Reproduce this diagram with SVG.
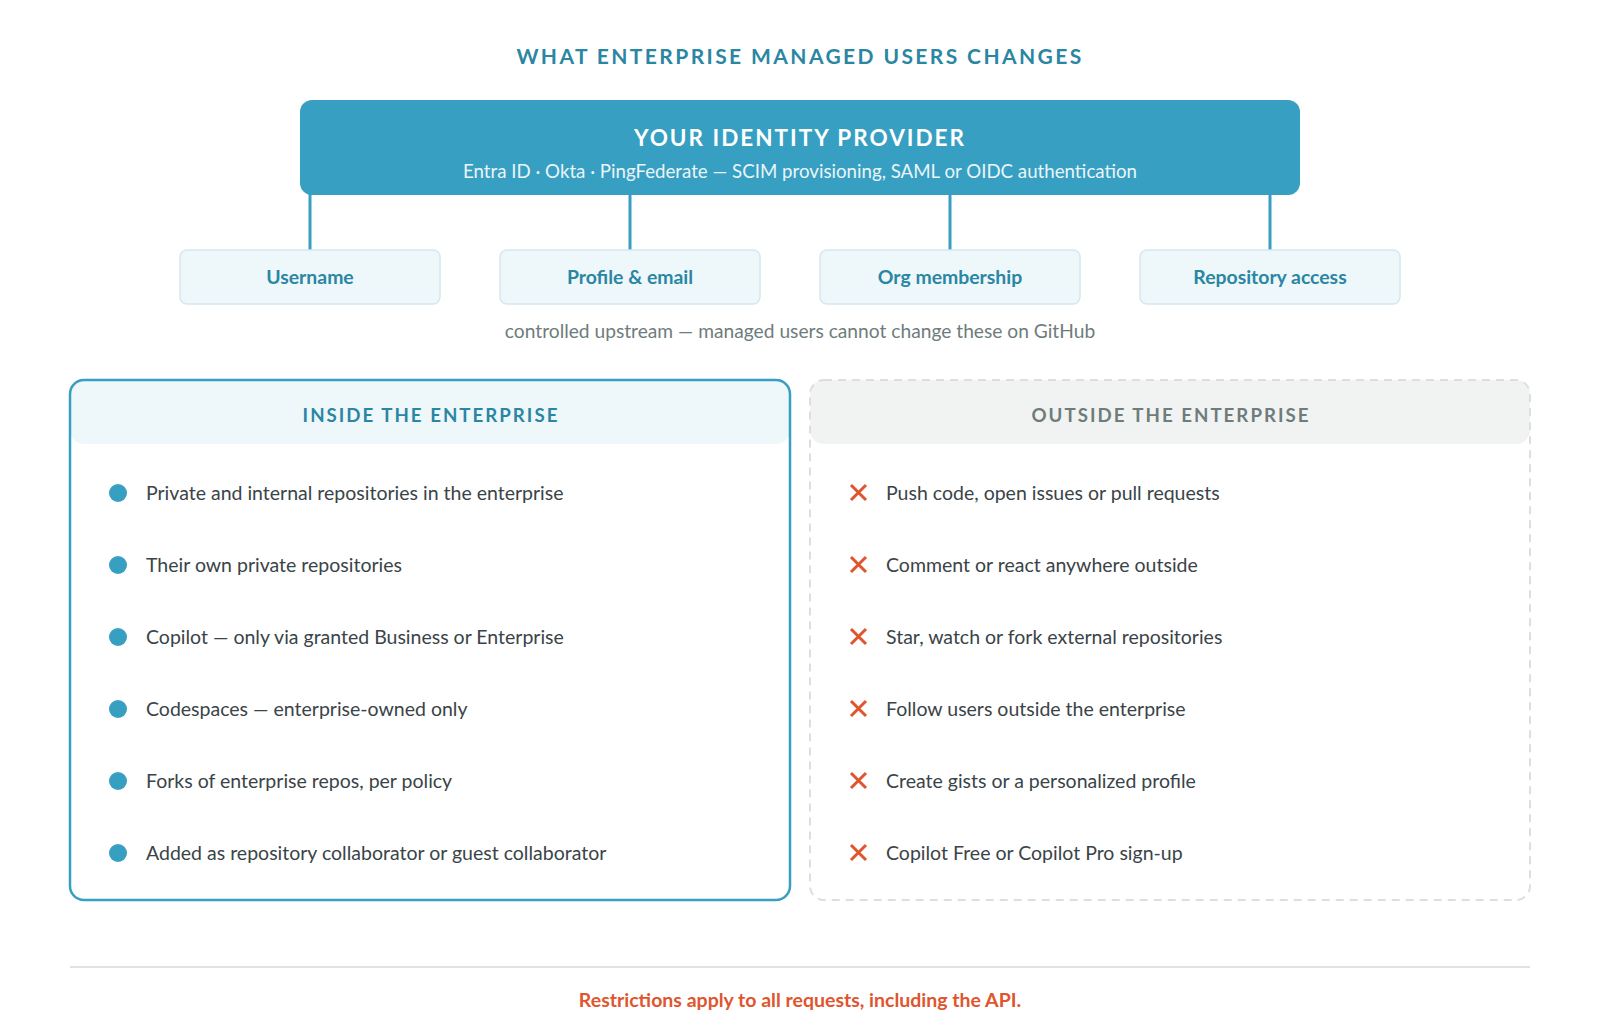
<svg xmlns="http://www.w3.org/2000/svg" width="1600" height="1020" viewBox="0 0 1600 1020">
<style>
text{font-family:Lato,"Liberation Sans",sans-serif}
.title{font-size:21px;font-weight:700;fill:#2A86A3;letter-spacing:2.4px}
.idp-t{font-size:22.5px;font-weight:700;fill:#fff;letter-spacing:2px}
.idp-s{font-size:18.7px;fill:#EAF5FA}
.attr{fill:#EEF7FA;stroke:#D3E9F1;stroke-width:1.5}
.attr-t{font-size:19.4px;font-weight:700;fill:#2A86A3}
.note{font-size:19.2px;fill:#6E7C7C}
.conn{stroke:#379FC1;stroke-width:3;fill:none}
.hdr-in{font-size:18.7px;font-weight:700;fill:#2A86A3;letter-spacing:2px}
.hdr-out{font-size:18.7px;font-weight:700;fill:#6E7C7C;letter-spacing:2px}
.item{font-size:19.5px;fill:#3A4448}
.dot{fill:#379FC1}
.x{stroke:#E0552E;stroke-width:3;stroke-linecap:butt}
.foot{font-size:19.5px;font-weight:700;fill:#E0552E}
</style>
<rect width="1600" height="1020" fill="#fff"/>
<text class="title" x="800" y="64" text-anchor="middle">WHAT ENTERPRISE MANAGED USERS CHANGES</text>

<g id="connectors">
<line class="conn" x1="310" y1="192" x2="310" y2="250"/>
<line class="conn" x1="630" y1="192" x2="630" y2="250"/>
<line class="conn" x1="950" y1="192" x2="950" y2="250"/>
<line class="conn" x1="1270" y1="192" x2="1270" y2="250"/>
</g>

<g id="idp">
<rect x="300" y="100" width="1000" height="95" rx="12" fill="#379FC1"/>
<text class="idp-t" x="800" y="146" text-anchor="middle">YOUR IDENTITY PROVIDER</text>
<text class="idp-s" x="800" y="178" text-anchor="middle">Entra ID · Okta · PingFederate — SCIM provisioning, SAML or OIDC authentication</text>
</g>

<g id="username"><rect class="attr" x="180" y="250" width="260" height="54" rx="7"/><text class="attr-t" x="310" y="284" text-anchor="middle">Username</text></g>
<g id="profile"><rect class="attr" x="500" y="250" width="260" height="54" rx="7"/><text class="attr-t" x="630" y="284" text-anchor="middle">Profile &amp; email</text></g>
<g id="org"><rect class="attr" x="820" y="250" width="260" height="54" rx="7"/><text class="attr-t" x="950" y="284" text-anchor="middle">Org membership</text></g>
<g id="repo"><rect class="attr" x="1140" y="250" width="260" height="54" rx="7"/><text class="attr-t" x="1270" y="284" text-anchor="middle">Repository access</text></g>

<text class="note" x="800" y="338" text-anchor="middle">controlled upstream — managed users cannot change these on GitHub</text>

<g id="inside">
<rect x="70" y="380" width="720" height="520" rx="14" fill="#fff"/>
<rect x="70" y="380" width="720" height="64" rx="14" fill="#EEF7FA"/>
<rect x="70" y="380" width="720" height="520" rx="14" fill="none" stroke="#379FC1" stroke-width="2.5"/>
<text class="hdr-in" x="431" y="422" text-anchor="middle">INSIDE THE ENTERPRISE</text>
<circle class="dot" cx="118" cy="493" r="9"/><text class="item" x="146" y="500">Private and internal repositories in the enterprise</text>
<circle class="dot" cx="118" cy="565" r="9"/><text class="item" x="146" y="572">Their own private repositories</text>
<circle class="dot" cx="118" cy="637" r="9"/><text class="item" x="146" y="644">Copilot — only via granted Business or Enterprise</text>
<circle class="dot" cx="118" cy="709" r="9"/><text class="item" x="146" y="716">Codespaces — enterprise-owned only</text>
<circle class="dot" cx="118" cy="781" r="9"/><text class="item" x="146" y="788">Forks of enterprise repos, per policy</text>
<circle class="dot" cx="118" cy="853" r="9"/><text class="item" x="146" y="860">Added as repository collaborator or guest collaborator</text>
</g>

<g id="outside">
<rect x="810" y="380" width="720" height="64" rx="14" fill="#F1F3F3"/>
<rect x="810" y="380" width="720" height="520" rx="14" fill="none" stroke="#DEDEDE" stroke-width="2" stroke-dasharray="8 6"/>
<text class="hdr-out" x="1171" y="422" text-anchor="middle">OUTSIDE THE ENTERPRISE</text>
<g class="x">
<path d="M851 485 l15 15 M866 485 l-15 15"/>
<path d="M851 557 l15 15 M866 557 l-15 15"/>
<path d="M851 629 l15 15 M866 629 l-15 15"/>
<path d="M851 701 l15 15 M866 701 l-15 15"/>
<path d="M851 773 l15 15 M866 773 l-15 15"/>
<path d="M851 845 l15 15 M866 845 l-15 15"/>
</g>
<text class="item" x="886" y="500">Push code, open issues or pull requests</text>
<text class="item" x="886" y="572">Comment or react anywhere outside</text>
<text class="item" x="886" y="644">Star, watch or fork external repositories</text>
<text class="item" x="886" y="716">Follow users outside the enterprise</text>
<text class="item" x="886" y="788">Create gists or a personalized profile</text>
<text class="item" x="886" y="860">Copilot Free or Copilot Pro sign-up</text>
</g>

<line x1="70" y1="967" x2="1530" y2="967" stroke="#E2E2E2" stroke-width="2"/>
<text class="foot" x="800" y="1007" text-anchor="middle">Restrictions apply to all requests, including the API.</text>
</svg>
